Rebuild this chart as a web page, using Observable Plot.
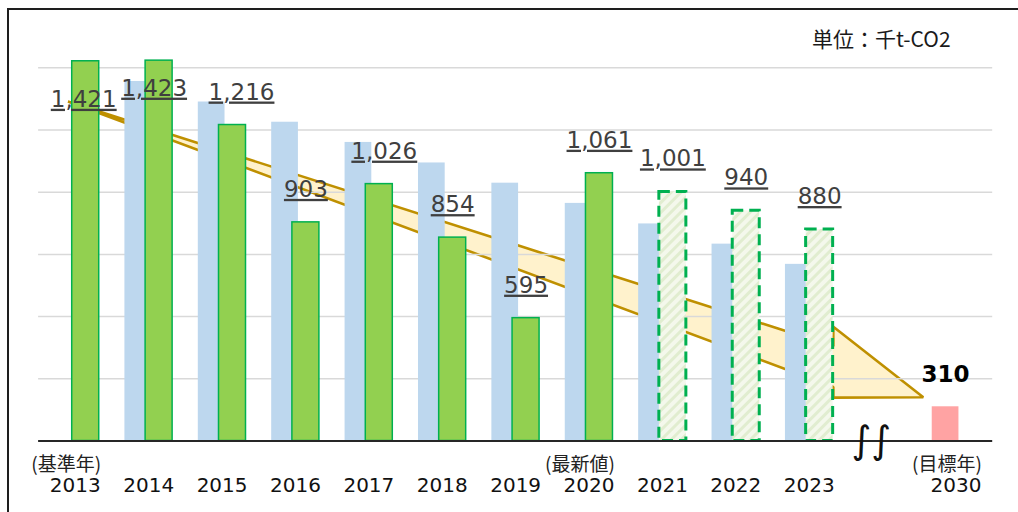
<!DOCTYPE html>
<html><head><meta charset="utf-8">
<script src="https://cdn.jsdelivr.net/npm/d3@7"></script>
<script src="https://cdn.jsdelivr.net/npm/@observablehq/plot@0.6"></script>
<style>
body{margin:0;background:#fff;}
#wrap{position:relative;width:1018px;height:512px;overflow:hidden;background:#fff;}
#chart{position:absolute;left:0;top:0;}
#frame{position:absolute;left:7px;top:8px;width:1100px;height:600px;border:2px solid #1e1e1e;box-sizing:border-box;pointer-events:none;}
#unit{position:absolute;left:812px;top:26px;font-size:21px;font-family:"Noto Sans CJK JP";color:#1a1a1a;line-height:24px;white-space:nowrap;}
</style></head>
<body>
<div id="wrap">
<svg width="0" height="0" style="position:absolute">
  <defs>
    <pattern id="hatch" patternUnits="userSpaceOnUse" width="7" height="7" patternTransform="rotate(45)">
      <rect width="7" height="7" fill="#F4F8EC"></rect>
      <rect width="3" height="7" fill="#E1EDD0"></rect>
    </pattern>
  </defs>
</svg>
<div id="chart"></div>
<div id="frame"></div>
<div id="unit">単位：千t-CO2</div>
</div>
<script>
// ---- data ----
const categories = ["2013","2014","2015","2016","2017","2018","2019","2020","2021","2022","2023","","2030"];
const subLabels  = ["(基準年)","","","","","","","(最新値)","","","","","(目標年)"];
const actualYears  = ["2013","2014","2015","2016","2017","2018","2019","2020"];
const actualValues = [1421, 1423, 1216, 903, 1026, 854, 595, 1061];
const forecastYears  = ["2021","2022","2023"];
const forecastValues = [1001, 940, 880];
const pathYears  = ["2014","2015","2016","2017","2018","2019","2020","2021","2022","2023"];
const pathValues = [1356, 1290, 1225, 1160, 1094, 1029, 964, 898, 833, 768];
const targetYears  = ["2030"];
const targetValues = [310];
const gridValues = [400, 600, 800, 1000, 1200, 1400];
// trend arrow outline (x in category-index units, values in kt-CO2)
const arrowX     = [-0.093, 10.335, 10.335, 11.561];
const arrowLower = [1290, 372, 338, 339];
const arrowUpper = [1290, 503, 566, 339];

// ---- build ----
const idx = y => categories.indexOf(y);
const actual = actualYears.map((y,k)=>({i:idx(y), v:actualValues[k], y}));
const forecast = forecastYears.map((y,k)=>({i:idx(y), v:forecastValues[k], y}));
const path = pathYears.map((y,k)=>({i:idx(y), v:pathValues[k]}));
const target = targetYears.map((y,k)=>({i:idx(y), v:targetValues[k]}));
const cats = categories.map((c,i)=>({i, c, s:subLabels[i]}));
const arrow = arrowX.map((x,k)=>({x, lo:arrowLower[k], hi:arrowUpper[k]}));
const labels = actual.concat(forecast);
const fmt = d3.format(",");
const nudge = {"2013":[-2,71], "2014":[-5,60.5], "2015":[9,0], "2017":[5,0]};
const LABEL_FILL = "#3f3f3f";
const labelOpts = (dx, dy) => ({x: d => d.i + 0.142, y: "v", text: d => fmt(d.v), dx, dy: -25.5 + dy,
  lineAnchor: "bottom", fontSize: 23, fontFamily: "DejaVu Sans", fill: LABEL_FILL});
const labelMarks = [Plot.text(labels.filter(d => !nudge[d.y]), labelOpts(0, 0))]
  .concat(Object.keys(nudge).map(y => Plot.text(labels.filter(d => d.y === y), labelOpts(nudge[y][0], nudge[y][1]))));

const BASE = 200;
const chart = Plot.plot({
  width: 1018, height: 512,
  marginLeft: 38.1, marginRight: 25.8, marginTop: 5.1, marginBottom: 71.5,
  x: {type: "linear", domain: [-0.5, 12.5], axis: null},
  y: {domain: [200, 1600], axis: null},
  style: {background: "transparent"},
  marks: [
    Plot.areaY(arrow, {x: "x", y1: "lo", y2: "hi", fill: "#FFF2CC", stroke: "#BF9000", strokeWidth: 2.6, strokeLinejoin: "miter"}),
    Plot.ruleY(gridValues, {stroke: "#D9D9D9", strokeWidth: 1.5}),
    Plot.rect(path, {x1: d => d.i - 0.324, x2: d => d.i + 0.040, y1: BASE, y2: "v", fill: "#BDD7EE"}),
    Plot.rect(actual, {x1: d => d.i - 0.042, x2: d => d.i + 0.326, y1: BASE, y2: "v", fill: "#92D050", stroke: "#00B050", strokeWidth: 1.5}),
    Plot.rect(forecast, {x1: d => d.i - 0.042, x2: d => d.i + 0.326, y1: BASE, y2: "v", fill: "url(#hatch)", stroke: "#00B050", strokeWidth: 3, strokeDasharray: "11 6"}),
    Plot.rect(target, {x1: d => d.i - 0.324, x2: d => d.i + 0.040, y1: BASE, y2: "v", fill: "#FFA3A3"}),
    Plot.ruleY([BASE], {stroke: "#262626", strokeWidth: 2}),
    Plot.text(["∫∫"], {x: () => idx(""), y: BASE, dx: -11, text: d => d, fontSize: 38, fontFamily: "DejaVu Sans", fill: "#111", lineAnchor: "middle"}),
    ...labelMarks,
    Plot.text(target, {x: d => d.i - 0.142, y: "v", text: d => String(d.v), dy: -24.3, lineAnchor: "bottom", fontSize: 23, fontWeight: "bold", fontFamily: "DejaVu Sans", fill: "#000"}),
    Plot.text(cats, {x: "i", y: BASE, text: "c", dy: 51.2, lineAnchor: "bottom", fontSize: 20, fontFamily: "DejaVu Sans", fill: "#111"}),
    Plot.text(cats.filter(d => d.s), {x: "i", y: BASE, text: "s", dx: -9, dy: 29.5, lineAnchor: "bottom", fontSize: 19, fontFamily: "Noto Sans CJK JP", fill: "#222"})
  ]
});
document.getElementById("chart").appendChild(chart);
chart.querySelectorAll(`g[fill="${LABEL_FILL}"] text`).forEach(t => { t.style.textDecoration = "underline"; });
</script>
</body></html>
